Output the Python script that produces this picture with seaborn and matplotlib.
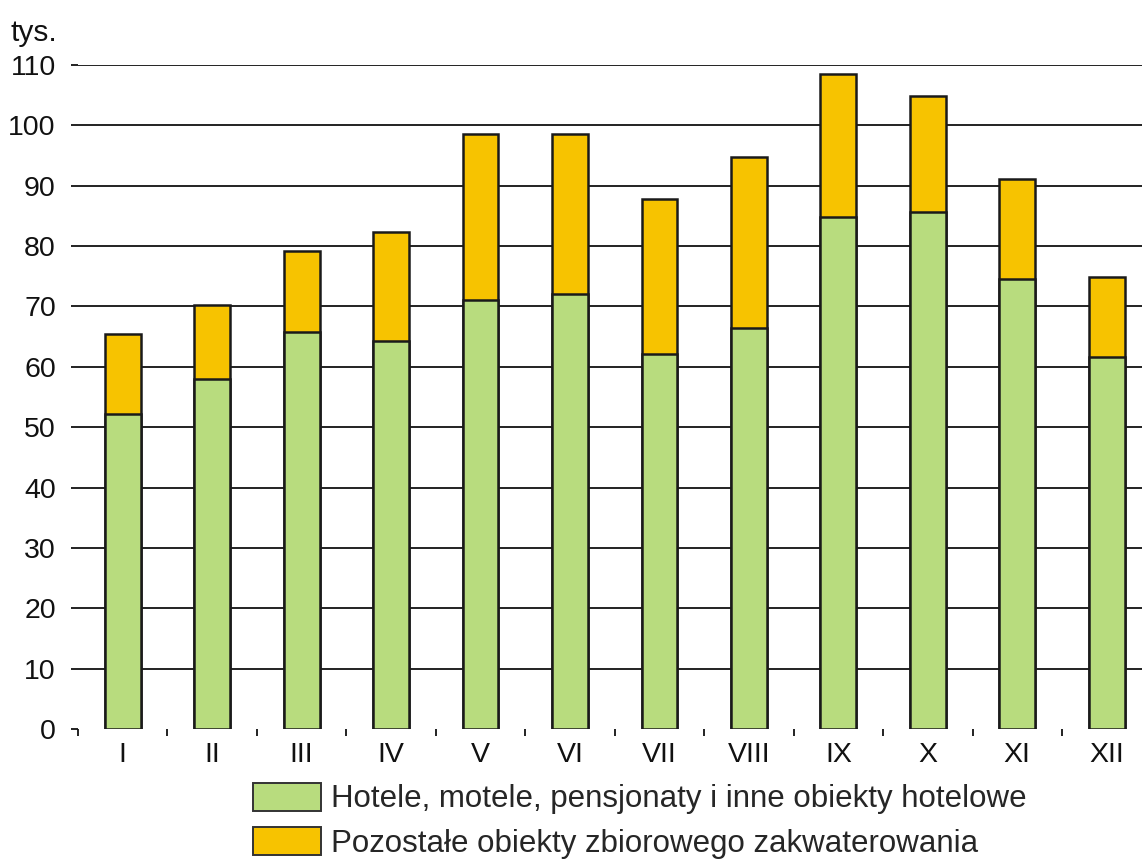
import matplotlib
matplotlib.use("Agg")
import matplotlib.pyplot as plt
import seaborn as sns
import pandas as pd
import numpy as np
from matplotlib.patches import Patch
from matplotlib.ticker import FixedLocator

months = ["I", "II", "III", "IV", "V", "VI", "VII", "VIII", "IX", "X", "XI", "XII"]
hotele = [52.2, 58.0, 65.8, 64.3, 71.1, 72.1, 62.1, 66.4, 84.8, 85.7, 74.6, 61.6]
pozostale = [13.2, 12.2, 13.4, 18.0, 27.5, 26.5, 25.7, 28.4, 23.7, 19.2, 16.5, 13.3]
labels = ["Hotele, motele, pensjonaty i inne obiekty hotelowe",
          "Pozostałe obiekty zbiorowego zakwaterowania"]
yticks = [0, 10, 20, 30, 40, 50, 60, 70, 80, 90, 100, 110]

green = "#B8DC7E"
orange = "#F7C300"

df = pd.DataFrame({"month": months, "hotele": hotele,
                   "total": np.array(hotele) + np.array(pozostale)})

sns.set_theme(style="white")
plt.rcParams["font.family"] = ["Liberation Sans", "DejaVu Sans"]

fig = plt.figure(figsize=(11.42, 8.59), dpi=100)
ax = fig.add_axes([0.0683, 0.1513, 0.94, 0.773])

sns.barplot(data=df, x="month", y="total", order=months, color=orange,
            width=0.4, edgecolor="#1a1a1a", linewidth=1.8, saturation=1, ax=ax, zorder=3)
sns.barplot(data=df, x="month", y="hotele", order=months, color=green,
            width=0.4, edgecolor="#1a1a1a", linewidth=1.8, saturation=1, ax=ax, zorder=4)

ax.set_xlim(-0.5, 11.5)
ax.set_ylim(0, 110)
ax.set_yticks(yticks)
ax.set_xlabel("")
ax.set_ylabel("")
for s in ax.spines.values():
    s.set_visible(False)

for v in yticks[1:]:
    ax.axhline(v, color="#111111", lw=1.3, zorder=1)

ax.tick_params(axis="y", which="major", length=5, width=1.3, color="#111111",
               labelsize=20.5, pad=11, left=True, labelcolor="#111111")
ax.tick_params(axis="x", which="major", length=0, labelsize=20.5, pad=9, labelcolor="#111111")
ax.xaxis.set_minor_locator(FixedLocator(np.arange(-0.5, 12, 1.0)))
ax.tick_params(axis="x", which="minor", length=5, width=1.3, color="#111111", bottom=True)

fig.text(0.009, 0.978, "tys.", fontsize=21.5, color="#111111", ha="left", va="top")

handles = [Patch(facecolor=green, edgecolor="#333333", lw=1.4),
           Patch(facecolor=orange, edgecolor="#333333", lw=1.4)]
fig.legend(handles, labels, loc="upper left", bbox_to_anchor=(0.2215, 0.089),
           bbox_transform=fig.transFigure, frameon=False, fontsize=22.5,
           handlelength=2.17, handleheight=1.0, handletextpad=0.33,
           labelspacing=0.42, borderaxespad=0, borderpad=0)

fig.savefig("out.png", dpi=100)
